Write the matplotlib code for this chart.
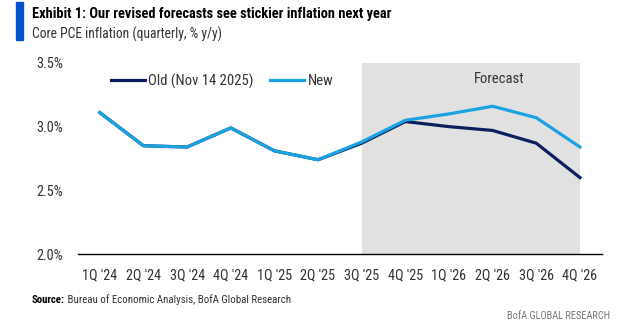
import matplotlib.pyplot as plt
from matplotlib import font_manager
from matplotlib.patches import Rectangle

# pick the narrowest sans family available
installed = {f.name for f in font_manager.fontManager.ttflist}
base = next((f for f in ['Roboto Condensed', 'Liberation Sans Narrow', 'DejaVu Sans Condensed',
                         'Open Sans Condensed', 'Roboto'] if f in installed), 'DejaVu Sans')
plt.rcParams['font.family'] = [base, 'DejaVu Sans']

quarters = ["1Q '24", "2Q '24", "3Q '24", "4Q '24", "1Q '25", "2Q '25",
            "3Q '25", "4Q '25", "1Q '26", "2Q '26", "3Q '26", "4Q '26"]
old_fcst = [3.11, 2.85, 2.84, 2.99, 2.81, 2.74, 2.87, 3.04, 3.00, 2.97, 2.87, 2.60]
new_fcst = [3.11, 2.85, 2.84, 2.99, 2.81, 2.74, 2.88, 3.05, 3.10, 3.16, 3.07, 2.84]
yticks = [2.0, 2.5, 3.0, 3.5]
forecast_start = 6

navy = '#0B1F5E'
sky = '#1AA3E0'
txt = '#333333'

fig = plt.figure(figsize=(6.25, 3.34), dpi=100)
ax = fig.add_axes([0.1248, 0.2395, 0.838, 0.572])

x = list(range(len(quarters)))
ax.axvspan(forecast_start, len(quarters) - 1, color='#E1E1E1', lw=0, zorder=0)
ax.plot(x, old_fcst, color=navy, lw=2.3, label='Old (Nov 14 2025)', zorder=3)
ax.plot(x, new_fcst, color=sky, lw=2.3, label='New', zorder=4)

ax.set_xlim(-0.5, len(quarters) - 0.5)
ax.set_ylim(2.0, 3.5)
ax.set_yticks(yticks)
ax.set_yticklabels([f'{v:.1f}%' for v in yticks])
ax.set_xticks(x)
ax.set_xticklabels(quarters)
ax.tick_params(axis='both', length=0, labelsize=10.3, colors=txt)
ax.tick_params(axis='y', pad=11)
ax.tick_params(axis='x', pad=10)

for s in ['top', 'right', 'left']:
    ax.spines[s].set_visible(False)
ax.spines['bottom'].set_color('black')
ax.spines['bottom'].set_linewidth(1.0)

ax.text(9.15, 3.375, 'Forecast', ha='center', va='center', fontsize=10.5, color=txt)

leg = ax.legend(loc='upper left', bbox_to_anchor=(0.043, 1.0), ncol=2, frameon=False,
                fontsize=10.6, handlelength=2.3, handletextpad=0.25, columnspacing=1.1,
                borderaxespad=0.3)
for t in leg.get_texts():
    t.set_color(txt)

# header bar and titles
fig.patches.append(Rectangle((16 / 625, 1 - 40 / 334), 7 / 625, 38 / 334,
                             transform=fig.transFigure, color='#0053C8'))
fig.text(32 / 625, 0.958, 'Exhibit 1: Our revised forecasts see stickier inflation next year',
         fontsize=10.35, fontweight='bold', va='center', color='black')
fig.text(32 / 625, 0.897, 'Core PCE inflation (quarterly, % y/y)',
         fontsize=9.8, va='center', color=txt)

src = fig.text(32 / 625, 0.102, 'Source:', fontsize=7.8, fontweight='bold', va='center')
ax.annotate(' Bureau of Economic Analysis, BofA Global Research', xy=(1, 0.5),
            xycoords=src, va='center', ha='left', fontsize=7.8, color=txt,
            annotation_clip=False)
fig.text(610 / 625, 0.054, 'BofA GLOBAL RESEARCH', fontsize=7.5, va='center', ha='right',
         color='#777777')

fig.savefig('out.png', dpi=100)
